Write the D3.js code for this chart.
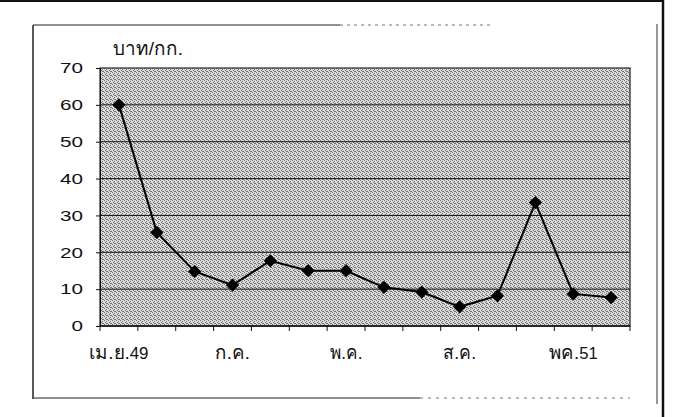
<!DOCTYPE html>
<html>
<head>
<meta charset="utf-8">
<script src="https://cdn.jsdelivr.net/npm/d3@7"></script>
<style>
  body { margin:0; background:#fff; }
  svg text { font-family: "Liberation Sans", Arial, sans-serif; fill:#111; }
</style>
</head>
<body>
<div class="bod"></div>
<script>
// data
const categories = ['เม.ย.49','','','ก.ค.','','','พ.ค.','','','ส.ค.','','','พค.51','']
const prices = [60, 25.4, 14.8, 11.1, 17.7, 15.0, 15.0, 10.5, 9.2, 5.2, 8.2, 33.5, 8.7, 7.7]
const yTicks = [0, 10, 20, 30, 40, 50, 60, 70]
const unitLabel = 'บาท/กก.'

const size = {width:677, height:417}
const plot = {left:100, right:630, top:68, bottom:326}
// the scanned lettering is wider than the system font, stretch to fit
const labelWidth = {'เม.ย.49':59, 'ก.ค.':35, 'พ.ค.':33, 'ส.ค.':33, 'พค.51':49}
const digitWidth = 11.5

// thai glyphs come out small in the fallback font - bigger size for them
const mixedText = (sel, thaiSize, numSize) => {
  sel.each(function(d){
    let t = d3.select(this)
    let str = t.attr('data-label')
    let parts = str.match(/[0-9]+|[^0-9]+/g)
    parts.forEach(p => {
      t.append('tspan')
        .attr('font-size', /[0-9]/.test(p) ? numSize : thaiSize)
        .text(p)
    })
  })
}

const svg = d3.select('.bod')
  .append('svg')
  .attr('width', size.width)
  .attr('height', size.height)

svg.append('rect').attr('width', size.width).attr('height', size.height).attr('fill', '#fff')

// halftone-ish fill like the scanned excel chart
const defs = svg.append('defs')
const pat = defs.append('pattern')
  .attr('id', 'dots')
  .attr('width', 4).attr('height', 4)
  .attr('patternUnits', 'userSpaceOnUse')
pat.append('rect').attr('width', 4).attr('height', 4).attr('fill', '#dcdcdc')
;[[0,0],[2,1],[1,2],[3,3],[2,3]].forEach(p => {
  pat.append('rect').attr('x', p[0]).attr('y', p[1]).attr('width', 1).attr('height', 1).attr('fill', '#6e6e6e')
})

// page frame lines (scan)
svg.append('line').attr('x1', 0).attr('x2', 663).attr('y1', 1).attr('y2', 1)
  .attr('stroke', '#111').attr('stroke-width', 2)
svg.append('line').attr('x1', 663).attr('x2', 663).attr('y1', 0).attr('y2', size.height)
  .attr('stroke', '#111').attr('stroke-width', 2.5)
svg.append('line').attr('x1', 657).attr('x2', 657).attr('y1', 24).attr('y2', 404)
  .attr('stroke', '#333').attr('stroke-width', 1)

// chart area border
const frame = svg.append('g').attr('stroke', '#222').attr('fill', 'none')
frame.append('line').attr('x1', 33).attr('x2', 33).attr('y1', 25).attr('y2', 399).attr('stroke-width', 1.5)
frame.append('line').attr('x1', 33).attr('x2', 340).attr('y1', 25).attr('y2', 25)
frame.append('line').attr('x1', 340).attr('x2', 490).attr('y1', 25).attr('y2', 25).attr('stroke-dasharray', '3,4').attr('stroke', '#777')
frame.append('line').attr('x1', 33).attr('x2', 420).attr('y1', 398).attr('y2', 398)
frame.append('line').attr('x1', 420).attr('x2', 630).attr('y1', 398).attr('y2', 398).attr('stroke-dasharray', '3,5').attr('stroke', '#777')

// scales
const x = d3.scaleBand()
  .domain(d3.range(categories.length))
  .range([plot.left, plot.right])
const y = d3.scaleLinear()
  .domain([0, 70])
  .range([plot.bottom, plot.top])

// plot area
svg.append('rect')
  .attr('x', plot.left).attr('y', plot.top)
  .attr('width', plot.right - plot.left).attr('height', plot.bottom - plot.top)
  .attr('fill', 'url(#dots)')

// gridlines
svg.append('g')
  .selectAll('line')
  .data(yTicks.filter(t => t > 0 && t < 70))
  .enter()
  .append('line')
  .attr('x1', plot.left).attr('x2', plot.right)
  .attr('y1', d => y(d)).attr('y2', d => y(d))
  .attr('stroke', '#111').attr('stroke-width', 1)

svg.append('rect')
  .attr('x', plot.left).attr('y', plot.top)
  .attr('width', plot.right - plot.left).attr('height', plot.bottom - plot.top)
  .attr('fill', 'none').attr('stroke', '#222').attr('stroke-width', 1.2)

// y axis
const yAxis = svg.append('g')
  .attr('transform', `translate(${plot.left},0)`)
  .call(d3.axisLeft(y).tickValues(yTicks).tickSize(4).tickPadding(13))
yAxis.select('.domain').attr('stroke', '#111')
yAxis.selectAll('.tick line').attr('stroke', '#111')
yAxis.selectAll('text')
  .attr('font-size', 15)
  .attr('fill', '#111')
  .attr('textLength', d => String(d).length * digitWidth)
  .attr('lengthAdjust', 'spacingAndGlyphs')

// x axis - ticks on category boundaries
const xAxis = svg.append('g')
  .attr('transform', `translate(0,${plot.bottom})`)
xAxis.append('line').attr('x1', plot.left).attr('x2', plot.right).attr('stroke', '#111').attr('stroke-width', 1.5)
xAxis.selectAll('.xt')
  .data(d3.range(categories.length + 1))
  .enter()
  .append('line')
  .attr('class', 'xt')
  .attr('x1', i => plot.left + i * x.step()).attr('x2', i => plot.left + i * x.step())
  .attr('y1', 0).attr('y2', 5)
  .attr('stroke', '#111')
xAxis.selectAll('text')
  .data(categories.map((c, i) => ({c, i})).filter(d => d.c))
  .enter()
  .append('text')
  .attr('data-label', d => d.c)
  .attr('x', d => x(d.i) + x.bandwidth() / 2 - labelWidth[d.c] / 2)
  .attr('y', 33)
  .attr('textLength', d => labelWidth[d.c])
  .attr('lengthAdjust', 'spacingAndGlyphs')
  .call(mixedText, 19, 17)

// unit label
svg.append('text')
  .attr('data-label', unitLabel)
  .attr('x', 113).attr('y', 55)
  .attr('textLength', 70)
  .attr('lengthAdjust', 'spacingAndGlyphs')
  .call(mixedText, 19, 17)

// series line
const line = d3.line()
  .x((d, i) => x(i) + x.bandwidth() / 2)
  .y(d => y(d))
svg.append('path')
  .datum(prices)
  .attr('d', line)
  .attr('fill', 'none')
  .attr('stroke', '#000')
  .attr('stroke-width', 2)

// diamond markers
svg.append('g')
  .selectAll('path')
  .data(prices)
  .enter()
  .append('path')
  .attr('d', d3.symbol().type(d3.symbolSquare).size(88))
  .attr('transform', (d, i) => `translate(${x(i) + x.bandwidth() / 2},${y(d)}) rotate(45)`)
  .attr('fill', '#000')
</script>
</body>
</html>
